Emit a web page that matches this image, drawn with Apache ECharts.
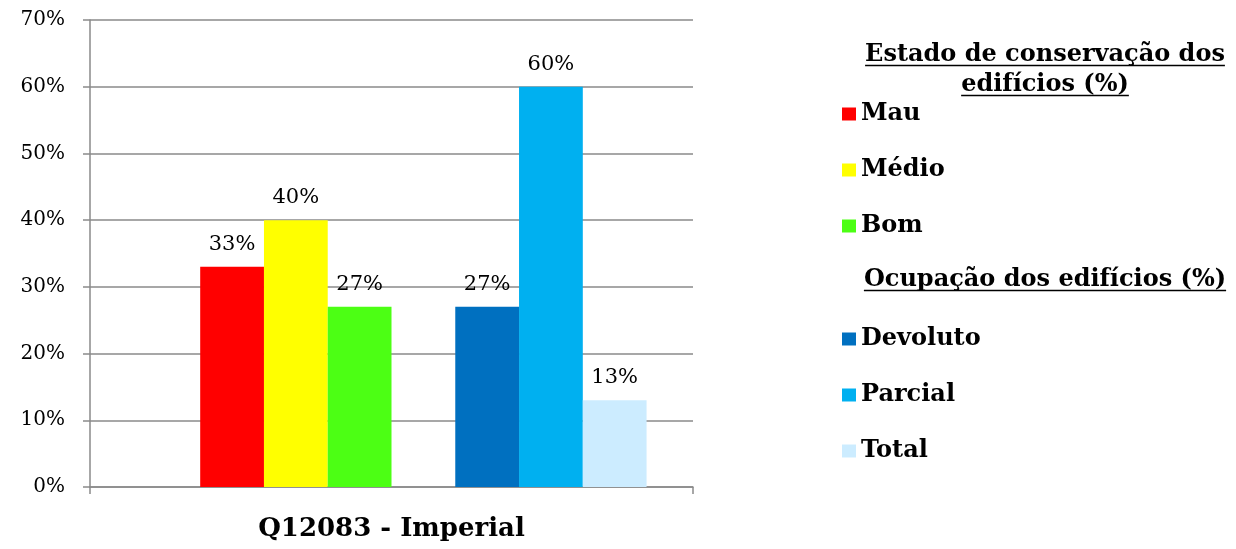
<!DOCTYPE html>
<html>
<head>
<meta charset="utf-8">
<script src="https://cdn.jsdelivr.net/npm/echarts@6/dist/echarts.min.js"></script>
<style>
html,body{margin:0;padding:0;background:#fff;}
#chart{width:1236px;height:549px;}
</style>
</head>
<body>
<div id="chart"></div>
<script>
// ---- data ----
const categories = ['Q12083 - Imperial'];
const header1 = 'Estado de conservação dos edifícios (%)';
const header2 = 'Ocupação dos edifícios (%)';
const conservNames = ['Mau', 'Médio', 'Bom'];
const conservValues = [33, 40, 27];
const ocupNames = ['Devoluto', 'Parcial', 'Total'];
const ocupValues = [27, 60, 13];
const yTicks = [0, 10, 20, 30, 40, 50, 60, 70];

// ---- styles ----
const FONT = '"DejaVu Serif", Georgia, serif';
const conservColors = ['#FF0000', '#FFFF00', '#4CFF14'];
const ocupColors = ['#0070C0', '#00B0F0', '#CCECFF'];
const gridColor = '#8a8a8a';

const labelStyle = {
  show: true, position: 'top', distance: 12,
  formatter: p => p.value + '%',
  fontFamily: FONT, fontSize: 21, color: '#000'
};

function barSeries(name, value, color) {
  return {
    type: 'bar', name: name, data: [value],
    itemStyle: { color: color },
    label: labelStyle,
    barGap: '0%', barCategoryGap: '15.4%'
  };
}

const series = [];
series.push(barSeries(header1, null, '#fff'));
conservNames.forEach((n, i) => series.push(barSeries(n, conservValues[i], conservColors[i])));
series.push(barSeries(header2, null, '#fff'));
ocupNames.forEach((n, i) => series.push(barSeries(n, ocupValues[i], ocupColors[i])));

// headers measured for underline
const ctx = document.createElement('canvas').getContext('2d');
const HFONT = 'bold 24px "DejaVu Serif"';
ctx.font = HFONT;
const headerLines = [
  { text: 'Estado de conservação dos', y: 55 },
  { text: 'edifícios (%)', y: 85 },
  { text: header2, y: 280 }
];
const cx = 1045;
const graphic = [];
headerLines.forEach(h => {
  const w = ctx.measureText(h.text).width;
  graphic.push({
    type: 'text', x: cx, y: h.y,
    style: { text: h.text, font: HFONT, fill: '#000', align: 'center', verticalAlign: 'middle' }
  });
  graphic.push({
    type: 'line',
    shape: { x1: cx - w / 2, y1: h.y + 10.5, x2: cx + w / 2, y2: h.y + 10.5 },
    style: { stroke: '#000', lineWidth: 1.5 }
  });
});

const legendCommon = {
  orient: 'vertical', left: 842, padding: 0,
  itemWidth: 14, itemHeight: 13, itemGap: 32, icon: 'rect',
  selectedMode: false,
  textStyle: { fontFamily: FONT, fontSize: 24, fontWeight: 'bold', color: '#000', lineHeight: 24 }
};

const chart = echarts.init(document.getElementById('chart'));
chart.setOption({
  animation: false,
  backgroundColor: '#fff',
  grid: { left: 90, right: 543, top: 20, bottom: 62 },
  legend: [
    Object.assign({}, legendCommon, { top: 102, data: conservNames }),
    Object.assign({}, legendCommon, { top: 327, data: ocupNames })
  ],
  graphic: graphic,
  xAxis: {
    type: 'category', data: categories,
    axisLine: { show: true, lineStyle: { color: gridColor, width: 1.5 } },
    axisTick: { show: true, length: 7, lineStyle: { color: gridColor, width: 1.5 } },
    axisLabel: { fontFamily: FONT, fontSize: 26, fontWeight: 'bold', color: '#000', margin: 29 }
  },
  yAxis: {
    type: 'value', min: yTicks[0], max: yTicks[yTicks.length - 1], interval: 10,
    axisLine: { show: true, lineStyle: { color: gridColor, width: 1.5 } },
    axisTick: { show: true, length: 7, lineStyle: { color: gridColor, width: 1.5 } },
    splitLine: { show: true, lineStyle: { color: gridColor, width: 1.5 } },
    axisLabel: { formatter: '{value}%', fontFamily: FONT, fontSize: 20, color: '#000', margin: 25 }
  },
  series: series
});
</script>
</body>
</html>
